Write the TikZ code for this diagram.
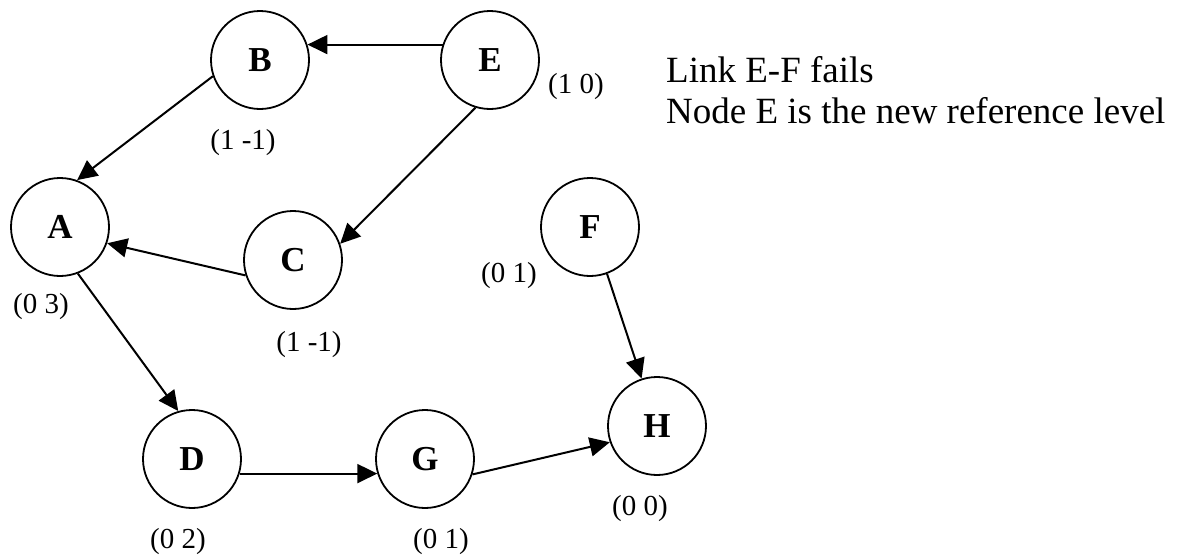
\documentclass[tikz,border=0pt]{standalone}
\usepackage{fontspec}
\setmainfont{Liberation Serif}
\usetikzlibrary{arrows.meta}
\begin{document}
\begin{tikzpicture}[x=1pt,y=-1pt,
  router/.style={circle,draw,line width=1.8pt,minimum size=98pt,inner sep=0pt,
    font=\fontsize{35}{40}\selectfont\bfseries},
  level/.style={inner sep=0pt,font=\fontsize{29}{34}\selectfont},
  note/.style={inner sep=0pt,anchor=base west,font=\fontsize{37}{44}\selectfont},
  link/.style={line width=2pt,-{Triangle[length=20pt,width=19pt]}}]
\useasboundingbox (0,0) rectangle (1183,557);
% routers
\node[router] (B) at (260,60) {B};
\node[router] (E) at (490,60) {E};
\node[router] (A) at (60,227) {A};
\node[router] (C) at (293,260) {C};
\node[router] (F) at (590,227) {F};
\node[router] (D) at (192,459) {D};
\node[router] (G) at (425,459) {G};
\node[router] (H) at (657,426) {H};
% heights
\node[level] (lE) at (576,87) {(1 0)};
\node[level] (lB) at (243,143) {(1 -1)};
\node[level] (lA) at (41,307) {(0 3)};
\node[level] (lC) at (309,345) {(1 -1)};
\node[level] (lF) at (509,276) {(0 1)};
\node[level] (lH) at (640,509) {(0 0)};
\node[level] (lD) at (178,542) {(0 2)};
\node[level] (lG) at (441,542) {(0 1)};
% link directions
\draw[link] (E.162) -- (B.18);
\draw[link] (B.199) -- (A.70);
\draw[link] (E.253) -- (C.19);
\draw[link] (C.198) -- (A.-19);
\draw[link] (A.-69) -- (D.106);
\draw[link] (D.-17) -- (G.197);
\draw[link] (G.-18) -- (H.199);
\draw[link] (F.-70) -- (H.108);
% caption
\node[note] (t1) at (666,82) {Link E-F fails};
\node[note] (t2) at (666,123) {Node E is the new reference level};
\end{tikzpicture}
\end{document}
